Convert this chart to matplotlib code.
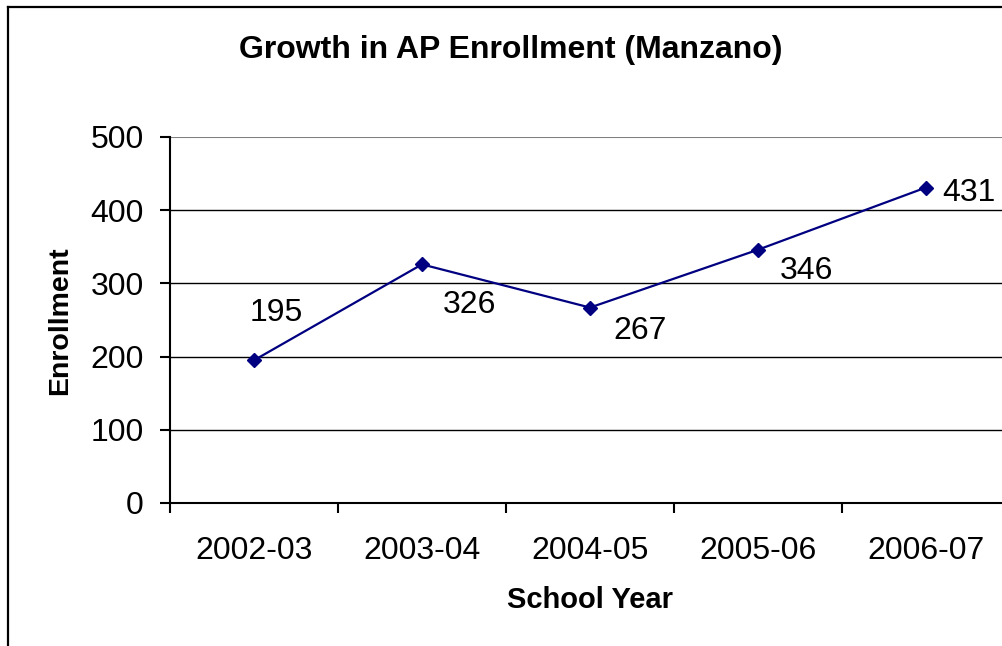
import matplotlib
matplotlib.use("Agg")
import matplotlib.pyplot as plt
from matplotlib.lines import Line2D

years = ["2002-03", "2003-04", "2004-05", "2005-06", "2006-07"]
enrollment = [195, 326, 267, 346, 431]
label_offsets = [(16, 34), (34, -29), (36, -17), (35, -15), (31, -4)]

plt.rcParams['font.family'] = ['Liberation Sans', 'DejaVu Sans']

fig = plt.figure(figsize=(10.02, 6.46), dpi=100)
W, H = 1002, 646
fig.add_artist(Line2D([8/W, 8/W], [0, 1-7/H], transform=fig.transFigure, color='black', linewidth=1.6))
fig.add_artist(Line2D([8/W, 1], [1-7/H, 1-7/H], transform=fig.transFigure, color='black', linewidth=1.6))

ax = fig.add_axes([170/W, 1-503/H, 840/W, 366/H])
x = list(range(len(years)))
ax.plot(x, enrollment, color='#000080', linewidth=1.6, marker='D', markersize=7.5,
        markerfacecolor='#000080', markeredgecolor='#000080', zorder=3, clip_on=False)
for xi, v, off in zip(x, enrollment, label_offsets):
    ax.annotate(str(v), (xi, v), xytext=off, textcoords='offset points',
                ha='center', va='center', fontsize=23, color='black')

ax.set_xlim(-0.5, len(years) - 0.5)
ax.set_ylim(0, 500)
ax.set_yticks([0, 100, 200, 300, 400, 500])
ax.set_xticks(x)
ax.set_xticklabels(years)
ax.set_xticks([i - 0.5 for i in range(len(years) + 1)], minor=True)
ax.tick_params(axis='x', which='major', length=0, pad=24, labelsize=23)
ax.tick_params(axis='x', which='minor', length=7, width=1.5, direction='out')
ax.tick_params(axis='y', length=7, width=1.5, direction='out', pad=12, labelsize=23)

for yv in [100, 200, 300, 400]:
    ax.axhline(yv, color='black', linewidth=1, zorder=1)
ax.axhline(500, color='#808080', linewidth=1.5, zorder=1)

for s in ['top', 'right']:
    ax.spines[s].set_visible(False)
for s in ['left', 'bottom']:
    ax.spines[s].set_linewidth(1.5)

ax.set_xlabel("School Year", fontsize=21, fontweight='bold', va='center')
ax.xaxis.set_label_coords(590/W, 1-600/H, transform=fig.transFigure)
ax.set_ylabel("Enrollment", fontsize=20.5, fontweight='bold', va='center')
ax.yaxis.set_label_coords(60/W, 1-321/H, transform=fig.transFigure)
fig.text(511/W, 1-50/H, "Growth in AP Enrollment (Manzano)", ha='center', va='center',
         fontsize=23, fontweight='bold')

fig.savefig("out.png", dpi=100)
